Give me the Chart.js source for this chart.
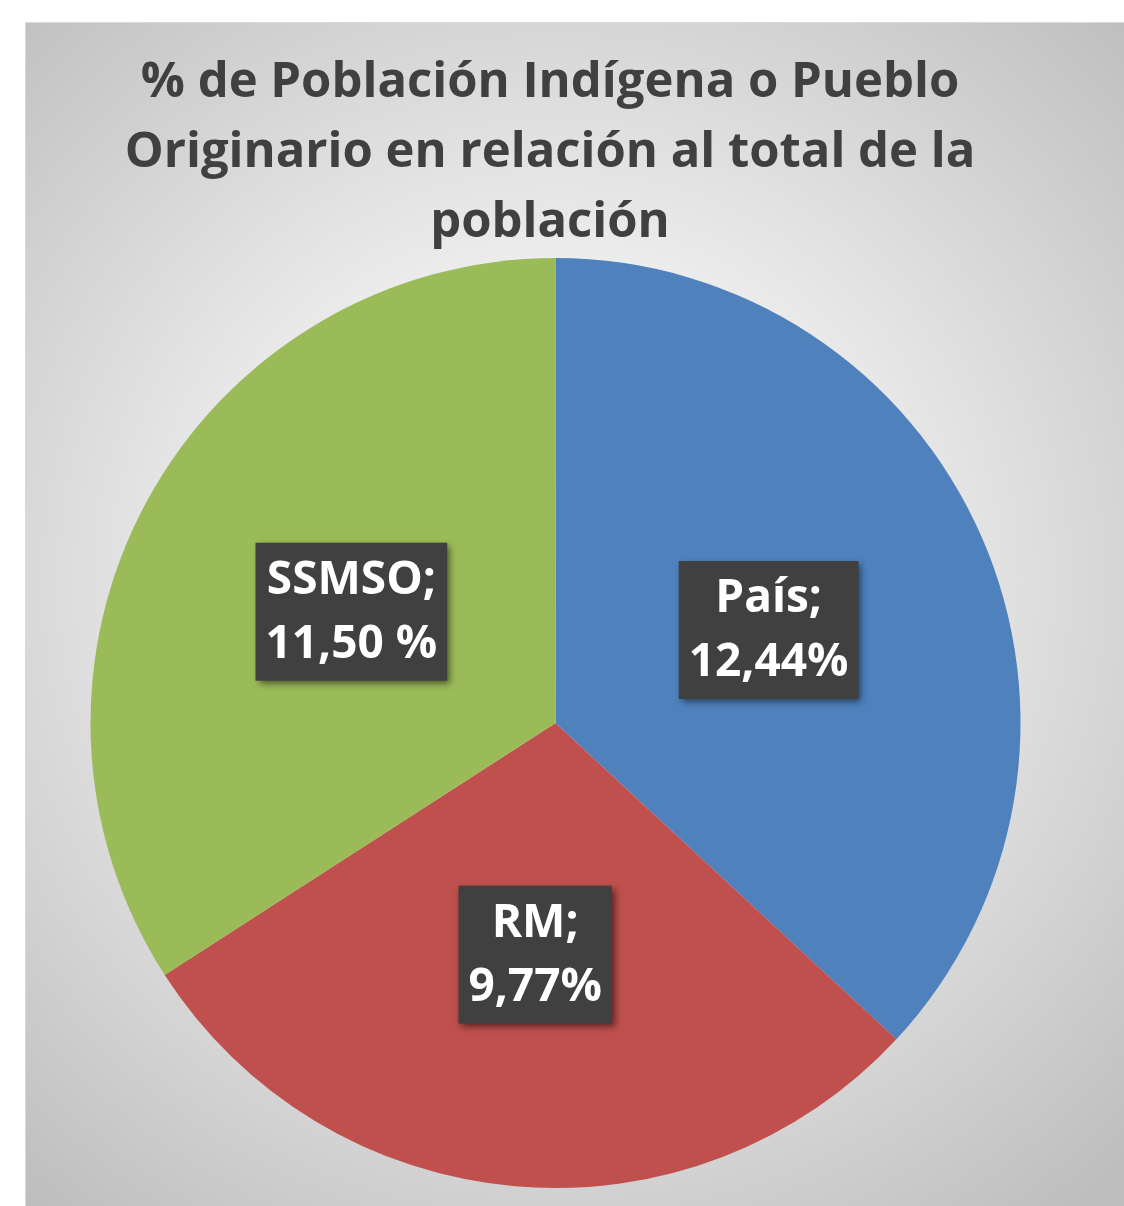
<!DOCTYPE html>
<html>
<head>
<meta charset="utf-8">
<script src="https://cdn.jsdelivr.net/npm/chart.js@4"></script>
<style>
  body { margin: 0; background: #ffffff; }
  #wrap {
    position: absolute;
    left: 25px;
    top: 22px;
    width: 1099px;
    height: 1184px;
    box-sizing: border-box;
    border: 1px solid #d9d9d9;
    border-right: none;
    border-bottom: none;
  }
</style>
</head>
<body>
<div id="wrap"><canvas id="pieChart"></canvas></div>
<script>
/* ===========================
Data
=========================== */

const categories = ["País", "RM", "SSMSO"];

const values = [12.44, 9.77, 11.50];

const valueLabels = ["12,44%", "9,77%", "11,50 %"];

const titleLines = [
    "% de Población Indígena o Pueblo",
    "Originario en relación al total de la",
    "población"
];

const colors = ["#4F81BD", "#C0504D", "#9BBB59"];

/* ===========================
Background + title
=========================== */

const backgroundPlugin = {
    id: "bg",
    beforeDraw(chart) {
        const ctx = chart.ctx;
        const w = chart.width, h = chart.height;
        ctx.save();
        const g = ctx.createRadialGradient(530, 560, 0, 530, 560, 820);
        g.addColorStop(0, "#ffffff");
        g.addColorStop(0.35, "#f0f0f0");
        g.addColorStop(1, "#bdbdbd");
        ctx.fillStyle = g;
        ctx.fillRect(0, 0, w, h);

        ctx.fillStyle = "#404040";
        ctx.font = "bold 49px 'Open Sans'";
        ctx.textAlign = "center";
        ctx.textBaseline = "alphabetic";
        titleLines.forEach((line, i) => {
            ctx.fillText(line, 524, 74 + i * 70);
        });
        ctx.restore();
    }
};

/* ===========================
Data labels (dark boxes)
=========================== */

const labelPlugin = {
    id: "boxLabels",
    afterDatasetsDraw(chart) {
        const ctx = chart.ctx;
        const meta = chart.getDatasetMeta(0);
        ctx.save();
        ctx.font = "bold 46px 'Open Sans'";
        ctx.textAlign = "center";
        ctx.textBaseline = "middle";

        meta.data.forEach((arc, i) => {
            const p = arc.getCenterPoint();
            const line1 = categories[i] + ";";
            const line2 = valueLabels[i];
            const tw = Math.max(ctx.measureText(line1).width, ctx.measureText(line2).width);
            const bw = tw + 20;
            const bh = 138;

            ctx.save();
            ctx.shadowColor = "rgba(0,0,0,0.55)";
            ctx.shadowBlur = 7;
            ctx.shadowOffsetX = 3;
            ctx.shadowOffsetY = 3;
            ctx.fillStyle = "#404040";
            ctx.fillRect(p.x - bw / 2, p.y - bh / 2, bw, bh);
            ctx.restore();

            ctx.fillStyle = "#ffffff";
            ctx.fillText(line1, p.x, p.y - 31);
            ctx.fillText(line2, p.x, p.y + 33);
        });
        ctx.restore();
    }
};

/* ===========================
Pie Chart
=========================== */

const pieCtx = document.getElementById("pieChart");

new Chart(pieCtx, {

    type: "pie",

    data: {

        labels: categories,

        datasets: [{

            data: values,

            backgroundColor: colors,

            borderWidth: 0

        }]

    },

    options: {

        responsive: true,

        maintainAspectRatio: false,

        animation: false,

        layout: {

            padding: { top: 235, bottom: 18, left: 64, right: 103 }

        },

        plugins: {

            legend: { display: false },

            title: { display: false },

            tooltip: { enabled: false }

        }

    },

    plugins: [backgroundPlugin, labelPlugin]

});
</script>
</body>
</html>
